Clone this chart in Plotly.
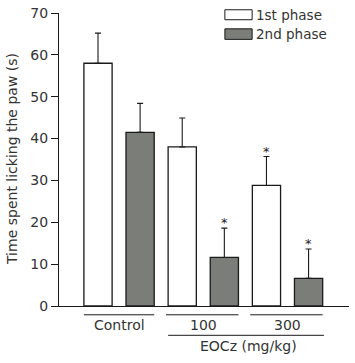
import plotly.graph_objects as go

groups = ["Control", "100", "300"]
phase1 = [58.0, 38.0, 28.8]
phase1_err = [7.2, 6.9, 6.9]
phase2 = [41.5, 11.6, 6.6]
phase2_err = [6.9, 7.0, 7.0]
phase1_sig = [False, False, True]
phase2_sig = [False, True, True]
y_ticks = [0, 10, 20, 30, 40, 50, 60, 70]
legend_names = ["1st phase", "2nd phase"]
dose_label = "EOCz (mg/kg)"
y_title = "Time spent licking the paw (s)"

FONT = "DejaVu Sans, Liberation Sans, sans-serif"
TXT = "#333333"
GRAY = "#7b7d79"
LINE = "#1a1a1a"
BW = 0.67

x1 = [2 * i for i in range(len(groups))]
x2 = [2 * i + 1 for i in range(len(groups))]

fig = go.Figure()
fig.add_trace(go.Bar(
    x=x1, y=phase1, width=BW, name=legend_names[0],
    marker=dict(color="white", line=dict(color=LINE, width=1.3)),
    error_y=dict(type="data", symmetric=False, array=phase1_err,
                 arrayminus=[0] * 3, color=LINE, thickness=1.1, width=3),
    showlegend=False, hoverinfo="skip"))
fig.add_trace(go.Bar(
    x=x2, y=phase2, width=BW, name=legend_names[1],
    marker=dict(color=GRAY, line=dict(color=LINE, width=1.3)),
    error_y=dict(type="data", symmetric=False, array=phase2_err,
                 arrayminus=[0] * 3, color=LINE, thickness=1.1, width=3),
    showlegend=False, hoverinfo="skip"))

annotations = []
shapes = []
# significance asterisks
for xs, vals, errs, sig in [(x1, phase1, phase1_err, phase1_sig),
                            (x2, phase2, phase2_err, phase2_sig)]:
    for x, v, e, s in zip(xs, vals, errs, sig):
        if s:
            annotations.append(dict(x=x, y=v + e, xref="x", yref="y", text="*",
                                    showarrow=False, yanchor="bottom", yshift=-4,
                                    font=dict(size=13, color="#222222", family=FONT)))

# group underlines and labels
line_y = -0.03
for i, g in enumerate(groups):
    a = x1[i] - BW / 2 - (0.05 if i > 0 else 0)
    b = x2[i] + BW / 2
    shapes.append(dict(type="line", xref="x", yref="paper", x0=a, x1=b,
                       y0=line_y, y1=line_y, line=dict(color=LINE, width=1)))
    annotations.append(dict(x=(x1[i] + x2[i]) / 2, y=line_y, xref="x", yref="paper",
                            text=g, showarrow=False, yanchor="top", yshift=0,
                            font=dict(size=14, color=TXT, family=FONT)))
dose_y = -0.1
shapes.append(dict(type="line", xref="x", yref="paper", x0=x1[1] - BW / 2,
                   x1=x2[2] + BW / 2 + 0.03, y0=dose_y, y1=dose_y,
                   line=dict(color=LINE, width=1)))
annotations.append(dict(x=(x1[1] + x2[2]) / 2 + 0.07, y=dose_y, xref="x", yref="paper",
                        text=dose_label, showarrow=False, yanchor="top", yshift=-1,
                        font=dict(size=14, color=TXT, family=FONT)))

# manual legend
leg = [(legend_names[0], "white", 1.011, 0.977), (legend_names[1], GRAY, 0.946, 0.910)]
for name, col, yt, yb in leg:
    shapes.append(dict(type="rect", xref="paper", yref="paper", x0=0.572, x1=0.666,
                       y0=yb, y1=yt, fillcolor=col, line=dict(color=LINE, width=1)))
    annotations.append(dict(x=0.674, y=(yt + yb) / 2, xref="paper", yref="paper",
                            text=name, showarrow=False, xanchor="left", yanchor="middle",
                            font=dict(size=13.5, color=TXT, family=FONT)))

# y-axis title
annotations.append(dict(x=0, y=0.5, xref="paper", yref="paper", text=y_title,
                        textangle=-90, showarrow=False, xanchor="center",
                        yanchor="middle", xshift=-47.5,
                        font=dict(size=14, color=TXT, family=FONT)))

fig.update_layout(
    width=355, height=363,
    margin=dict(l=59, r=6, t=13, b=57),
    plot_bgcolor="white", paper_bgcolor="white",
    font=dict(family=FONT, color=TXT, size=14),
    bargap=0, hovermode=False,
    xaxis=dict(range=[-0.926, 5.96], showline=True, linecolor=LINE, linewidth=1,
               showticklabels=False, ticks="", showgrid=False, zeroline=False,
               fixedrange=True, automargin=False),
    yaxis=dict(range=[0, 70], tickvals=y_ticks, showline=True, linecolor=LINE,
               linewidth=1, ticks="outside", ticklen=7, tickcolor=LINE,
               showgrid=False, zeroline=False, automargin=False, fixedrange=True,
               tickfont=dict(size=14, color=TXT, family=FONT)),
    shapes=shapes, annotations=annotations,
)

fig.write_html("out.html", config={"displayModeBar": False, "staticPlot": True},
               post_script="document.body.style.margin='0';document.body.style.overflow='hidden';")
